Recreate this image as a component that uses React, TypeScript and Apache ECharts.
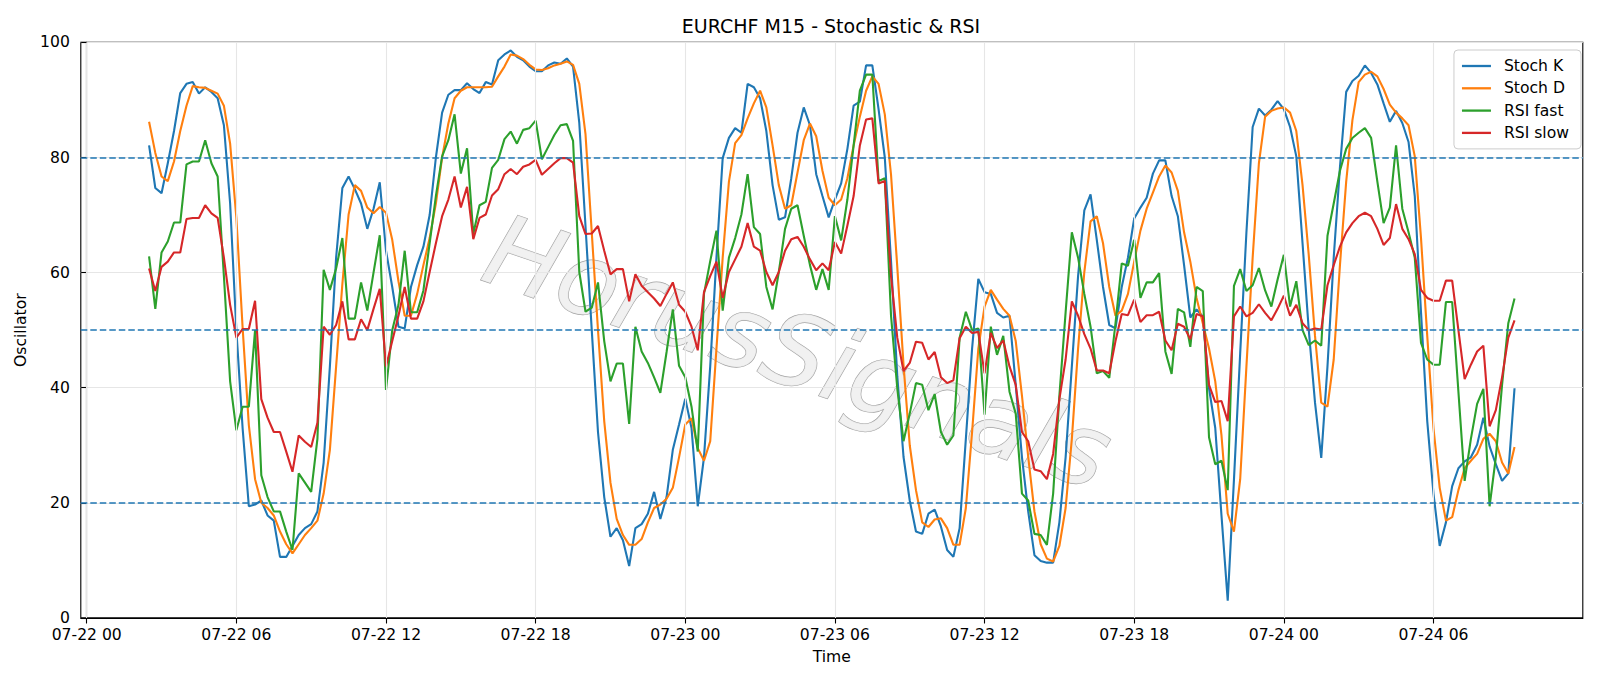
import React, { useEffect, useRef } from "react";
import * as echarts from "echarts";

// time axis: hours after 07-22 00:00, bars every 15 minutes
const START_HOUR = 2.5;
const STEP_HOUR = 0.25;
const TICK_HOURS = [0, 6, 12, 18, 24, 30, 36, 42, 48, 54];
const TICK_LABELS = ["07-22 00", "07-22 06", "07-22 12", "07-22 18", "07-23 00", "07-23 06", "07-23 12", "07-23 18", "07-24 00", "07-24 06"];
const LEVELS = [80, 50, 20];
const TITLE = "EURCHF M15 - Stochastic & RSI";
const SERIES_NAMES = ["Stoch K", "Stoch D", "RSI fast", "RSI slow"];
const COLORS = ["#1f77b4", "#ff7f0e", "#2ca02c", "#d62728"];

const stochK = [
  82.1, 74.7, 73.8, 79.0, 84.6, 91.2, 92.8, 93.1, 91.1, 92.2, 91.4, 90.3, 85.6, 72, 50, 33, 19.4, 19.7, 20.4, 17.8, 16.9, 10.6, 10.6, 12.5, 14.4, 15.6, 16.3,
  18.5, 27.0, 43.7, 62.6, 74.7, 76.7, 74.5, 72.0, 67.6, 71.1, 75.7, 63.8, 57.5, 50.6, 50.3, 57.5, 61.3, 64.5, 70, 80, 87.8, 90.9, 91.7, 91.7, 92.9, 91.9, 91.2, 93.1,
  92.7, 96.9, 97.9, 98.6, 97.5, 96.9, 95.8, 95.0, 95.0, 96.0, 96.5, 96.3, 97.2, 95.8, 86, 68, 50, 32.3, 21.0, 14.1, 15.6, 13.5, 9.0, 15.6, 16.3, 18.1, 21.9, 17.2,
  21.0, 29.2, 33.6, 38.1, 33.0, 19.4, 27.9, 43.7, 62.6, 79.9, 83.4, 85.1, 84.3, 92.8, 92.2, 90.3, 84.6, 75.2, 69.2, 69.6, 76.4, 84.3, 88.7, 85.6, 77.1, 73.3, 69.6, 72.7,
  75.5, 81.5, 89.0, 89.7, 96.0, 96.0, 88.4, 80, 62, 42, 28, 20.4, 15.0, 14.6, 18.1, 18.8, 15.9, 11.8, 10.6, 15.6, 31.1, 46.8, 58.9, 56.6, 56.3, 53.0, 52.2, 52.5,
  40.5, 27.9, 18.5, 10.9, 9.9, 9.6, 9.6, 16.6, 27.9, 43.7, 59.4, 70.8, 73.6, 65.7, 57.5, 50.9, 50.3, 57.5, 62.6, 69.4, 71.3, 73.0, 77.2, 79.5, 79.5, 73.3, 69.8, 61.3,
  52.2, 53.6, 52.4, 39.9, 33.0, 17.8, 3.0, 24, 46, 67, 85.3, 88.5, 87.3, 88.3, 89.8, 88.4, 85.3, 80.2, 65.1, 50.0, 37.4, 27.8, 43.7, 62.6, 78.3, 91.4, 93.3, 94.2,
  96.0, 94.7, 92.7, 89.4, 86.2, 88.1, 86.0, 82.7, 73.3, 53.1, 34.2, 21.6, 12.5, 16.6, 22.9, 26.0, 27.2, 27.9, 30.1, 34.8, 29.8, 26.7, 23.8, 25.1, 39.9,
];

const stochD = [
  86.2, 80.8, 76.7, 75.9, 79.3, 84.6, 89.0, 92.4, 92.2, 92.1, 91.6, 91.1, 89.0, 82.4, 69.5, 50.5, 33.5, 24.1, 20.0, 19.1, 17.8, 15.0, 12.8, 11.2, 12.8, 14.4, 15.6,
  16.9, 21.6, 29.2, 43.7, 58, 70.1, 75.2, 74.2, 71.3, 70.3, 71.4, 70.4, 65.7, 58.5, 52.5, 52.5, 56.3, 61.3, 66, 72, 80, 85.9, 90.3, 91.6, 92.2, 92.2, 92.2, 92.2,
  92.3, 94.1, 95.8, 97.9, 97.7, 97.1, 96.1, 95.3, 95.2, 95.5, 96.0, 96.3, 96.7, 96.1, 92.8, 84.0, 67.0, 50.0, 34.2, 23.5, 17.2, 14.4, 12.7, 12.7, 13.7, 16.6, 19.1, 19.7,
  20.7, 22.6, 27.9, 33.6, 34.7, 29.5, 27.3, 30.7, 46.8, 62.6, 75.8, 82.5, 83.9, 86.8, 89.4, 91.6, 88.7, 82.1, 75.2, 71.1, 71.7, 77.4, 83.0, 85.9, 83.7, 77.7, 73.0, 71.7,
  72.7, 76.4, 82.1, 87.1, 91.6, 94.1, 92.8, 87.5, 77, 61, 44, 30, 22.2, 16.6, 15.8, 17.1, 17.3, 15.6, 12.7, 12.7, 19.1, 32.3, 46.8, 54.1, 57.0, 55.3, 53.7, 52.5,
  48.1, 38.6, 28, 18.5, 12.8, 10.3, 9.8, 12.5, 19.1, 31.1, 46.8, 60.1, 68.9, 69.8, 65.1, 57.5, 52.5, 53.4, 56.3, 61.9, 67.3, 71.1, 73.9, 76.7, 78.6, 77.4, 74.2, 67.0,
  61.9, 55.6, 51.2, 46.8, 41.1, 31.7, 18.1, 15.0, 24.1, 43.7, 62.6, 79.0, 87.1, 88.1, 88.5, 88.7, 87.8, 84.6, 75.2, 63, 49, 37.4, 36.7, 44.9, 61.3, 75.8, 86.5, 93.1,
  94.4, 94.9, 94.1, 91.9, 89.2, 87.8, 86.8, 85.6, 80.2, 66, 49, 33, 22.6, 16.9, 17.5, 22.2, 26.0, 27.3, 28.5, 31.1, 32.0, 30.7, 27.0, 25.1, 29.7,
];

const rsiFast = [
  62.8, 53.7, 63.5, 65.4, 68.7, 68.7, 78.8, 79.3, 79.3, 83.0, 79.0, 76.7, 59.4, 41.1, 32.6, 36.7, 36.7, 50.0, 24.8, 21.0, 18.5, 18.5, 15.0, 11.8, 25.1, 23.5, 21.9,
  31.1, 60.5, 57.0, 60.7, 66.0, 52.0, 52.0, 58.3, 53.4, 60.0, 66.5, 39.6, 50.0, 54.4, 63.8, 53.1, 53.1, 56.9, 65.1, 73.3, 80.2, 83.0, 87.5, 77.2, 81.6, 66.7, 71.7, 72.3,
  78.2, 79.6, 83.2, 84.5, 82.4, 84.8, 85.1, 86.4, 79.7, 81.8, 83.9, 85.6, 85.8, 82.9, 60.1, 53.2, 53.9, 58.3, 48.1, 41.1, 44.2, 44.2, 33.7, 50.6, 46.3, 44.3, 41.8, 39.1,
  46.2, 53.6, 43.8, 41.8, 36.7, 28.9, 56.3, 62.0, 67.3, 53.4, 62.6, 66.0, 70.1, 77.1, 67.9, 66.7, 57.5, 53.6, 60.1, 67.6, 71.1, 71.7, 66.4, 61.3, 57.0, 60.6, 57.0, 69.8,
  65.6, 72.7, 82.1, 91.6, 94.4, 94.4, 75.9, 76.4, 52.5, 39.9, 30.7, 35.5, 40.8, 40.5, 36.1, 38.9, 32.3, 30.1, 31.7, 48.7, 53.2, 50.0, 50.3, 35.3, 50.6, 45.7, 49.0, 39.3,
  35.5, 21.6, 20.4, 14.6, 14.4, 12.7, 21.6, 38.6, 53.1, 67.0, 62.6, 56.3, 50.6, 42.5, 42.9, 41.7, 51.2, 61.6, 61.2, 65.7, 55.6, 58.3, 58.3, 59.9, 46.3, 42.4, 53.7, 53.1,
  47.1, 57.5, 56.8, 31.4, 26.7, 27.3, 22.2, 57.7, 60.6, 56.8, 57.8, 60.8, 56.9, 54.1, 58.8, 63.1, 54.1, 58.5, 50.0, 47.4, 48.2, 47.3, 66.4, 72.0, 77.7, 81.5, 83.4, 84.3,
  85.1, 83.4, 75.8, 68.6, 71.3, 82.1, 71.1, 67.0, 62.6, 47.8, 44.9, 44.0, 44.0, 54.9, 54.9, 39.3, 23.8, 31.1, 37.2, 39.8, 19.4, 27.9, 40.5, 51.2, 55.5,
];

const rsiSlow = [
  60.7, 56.8, 61.0, 61.9, 63.5, 63.5, 69.3, 69.5, 69.5, 71.7, 70.3, 69.5, 62.6, 54.4, 48.7, 50.2, 50.2, 55.1, 38.0, 34.8, 32.3, 32.3, 28.9, 25.4, 31.7, 30.6, 29.7,
  33.9, 50.6, 49.2, 50.9, 55.0, 48.4, 48.4, 51.9, 50.0, 53.7, 57.2, 43.7, 48.1, 52.5, 57.5, 52.0, 52.0, 55.0, 60.1, 65.1, 69.8, 72.7, 76.7, 71.3, 74.9, 65.8, 69.5, 70.1,
  73.4, 74.5, 77.1, 78.0, 77.1, 78.4, 78.8, 79.6, 77.0, 78.0, 79.0, 79.9, 79.9, 79.1, 69.8, 66.7, 66.8, 68.1, 63.8, 59.7, 60.6, 60.6, 55.0, 59.7, 57.7, 56.6, 55.5, 54.2,
  56.3, 58.3, 54.4, 53.2, 50.6, 46.5, 56.6, 59.4, 61.9, 55.6, 60.1, 62.3, 64.5, 68.6, 64.5, 63.8, 60.1, 57.8, 60.1, 63.8, 65.8, 66.2, 64.5, 62.3, 60.4, 61.6, 60.4, 65.3,
  63.3, 68.2, 73.3, 82.1, 86.6, 86.8, 75.5, 75.9, 59.4, 48.7, 42.9, 44.3, 48.0, 47.8, 44.9, 46.2, 41.8, 40.8, 41.3, 48.6, 50.6, 49.5, 49.7, 42.5, 49.5, 46.9, 48.2, 43.7,
  40.5, 32.3, 30.7, 25.8, 25.5, 24.1, 28.5, 38.0, 44.9, 55.0, 52.5, 49.3, 46.8, 43.0, 43.0, 42.5, 48.1, 52.8, 52.6, 55.3, 51.4, 52.6, 52.6, 53.2, 48.2, 46.5, 51.1, 50.6,
  48.4, 52.8, 52.4, 40.5, 37.5, 37.7, 34.2, 52.4, 54.1, 52.4, 53.0, 54.5, 53.0, 51.7, 53.7, 56.0, 52.5, 54.4, 51.2, 50.0, 50.3, 50.1, 57.8, 61.3, 64.5, 67.0, 68.6, 69.8,
  70.4, 69.8, 67.6, 64.8, 66.0, 71.9, 67.6, 65.8, 63.2, 57.0, 55.6, 55.1, 55.1, 58.6, 58.6, 50.0, 41.5, 44.0, 46.3, 47.3, 33.3, 36.1, 41.8, 48.7, 51.7,
];

const FONT = "DejaVu Sans";

function toPairs(vals: number[]) {
  return vals.map((v, i) => [START_HOUR + STEP_HOUR * i, v]);
}

export default function App() {
  const ref = useRef<HTMLDivElement>(null);
  useEffect(() => {
    if (!ref.current) return;
    const chart = echarts.init(ref.current, undefined, { renderer: "svg" });
    const all = [stochK, stochD, rsiFast, rsiSlow];
    const lineSeries = all.map((vals, k) => ({
      name: SERIES_NAMES[k],
      type: "line",
      data: toPairs(vals),
      showSymbol: false,
      symbol: "none",
      z: 3,
      lineStyle: { color: COLORS[k], width: 2.1 },
      itemStyle: { color: COLORS[k] },
      emphasis: { disabled: true },
    }));
    const option: any = {
      animation: false,
      backgroundColor: "#ffffff",
      textStyle: { fontFamily: FONT },
      grid: {
        left: 80.8,
        right: 17.2,
        top: 42.4,
        bottom: 68.1,
        show: true,
        borderColor: "#000",
        borderWidth: 1.1,
        backgroundColor: "transparent",
      },
      legend: {
        orient: "vertical",
        right: 19,
        top: 50,
        data: SERIES_NAMES,
        icon: "rect",
        itemWidth: 29,
        itemHeight: 2.3,
        itemGap: 6.3,
        padding: [8, 12, 8, 8],
        borderColor: "#cccccc",
        borderWidth: 1,
        borderRadius: 4,
        backgroundColor: "rgba(255,255,255,0.8)",
        textStyle: { fontSize: 15.6, lineHeight: 16, color: "#000", fontFamily: FONT, padding: [0, 0, 0, 8] },
      },
      xAxis: {
        type: "value",
        min: START_HOUR - 0.05 * STEP_HOUR * (stochK.length - 1),
        max: START_HOUR + 1.05 * STEP_HOUR * (stochK.length - 1),
        name: "Time",
        nameLocation: "middle",
        nameGap: 31,
        nameTextStyle: { fontSize: 15.6, color: "#000", fontFamily: FONT },
        axisLine: { show: true, onZero: false, lineStyle: { color: "#000", width: 1.1 } },
        axisTick: { show: true, customValues: TICK_HOURS, length: 5.6, lineStyle: { color: "#000", width: 1.1 } },
        axisLabel: {
          customValues: TICK_HOURS,
          formatter: (v: number) => {
            const idx = TICK_HOURS.indexOf(Math.round(v));
            return idx >= 0 ? TICK_LABELS[idx] : "";
          },
          fontSize: 15.6,
          lineHeight: 15,
          color: "#000",
          margin: 9.5,
          fontFamily: FONT,
        },
        splitLine: { show: false },
      },
      yAxis: {
        type: "value",
        min: 0,
        max: 100,
        interval: 20,
        name: "Oscillator",
        nameLocation: "middle",
        nameGap: 43,
        nameTextStyle: { fontSize: 15.6, color: "#000", fontFamily: FONT },
        axisLine: { show: true, lineStyle: { color: "#000", width: 1.1 } },
        axisTick: { show: true, length: 5.6, lineStyle: { color: "#000", width: 1.1 } },
        axisLabel: { fontSize: 15.6, lineHeight: 14, color: "#000", margin: 11, fontFamily: FONT },
        splitLine: { show: true, lineStyle: { color: "#e6e6e6", width: 1.1 } },
      },
      graphic: [
        {
          type: "text",
          x: 831,
          y: 25.5,
          z: 10,
          style: {
            text: TITLE,
            fontSize: 19,
            fontFamily: FONT,
            fill: "#000",
            align: "center",
            verticalAlign: "middle",
            textAlign: "center",
            textVerticalAlign: "middle",
          },
        },
        {
          type: "text",
          x: 798,
          y: 352,
          rotation: -0.33,
          z: 0,
          silent: true,
          style: {
            text: "HorusSignals",
            fontSize: 100,
            fontStyle: "italic",
            fontFamily: FONT,
            fill: "rgba(240,240,240,0.9)",
            stroke: "rgba(150,150,150,0.9)",
            lineWidth: 1.2,
            align: "center",
            verticalAlign: "middle",
            textAlign: "center",
            textVerticalAlign: "middle",
            shadowColor: "rgba(100,100,100,0.7)",
            shadowBlur: 2,
            shadowOffsetX: 3,
            shadowOffsetY: 4,
          },
        },
      ],
      series: [
        {
          name: "grid-v",
          type: "line",
          data: [],
          z: 1,
          silent: true,
          markLine: {
            silent: true,
            symbol: "none",
            label: { show: false },
            animation: false,
            lineStyle: { color: "#e6e6e6", width: 1.1, type: "solid" },
            data: TICK_HOURS.map((h) => ({ xAxis: h })),
          },
        },
        ...lineSeries,
        {
          name: "levels",
          type: "line",
          data: [],
          z: 4,
          silent: true,
          markLine: {
            silent: true,
            symbol: "none",
            label: { show: false },
            animation: false,
            lineStyle: { color: "#1f77b4", width: 1.5, type: [6.5, 3] },
            data: LEVELS.map((l) => ({ yAxis: l })),
          },
        },
      ],
    };
    chart.setOption(option);
    return () => chart.dispose();
  }, []);
  return (
    <div
      ref={ref}
      style={{ position: "absolute", left: 0, top: 0, width: 1600, height: 686, background: "#fff" }}
    />
  );
}
